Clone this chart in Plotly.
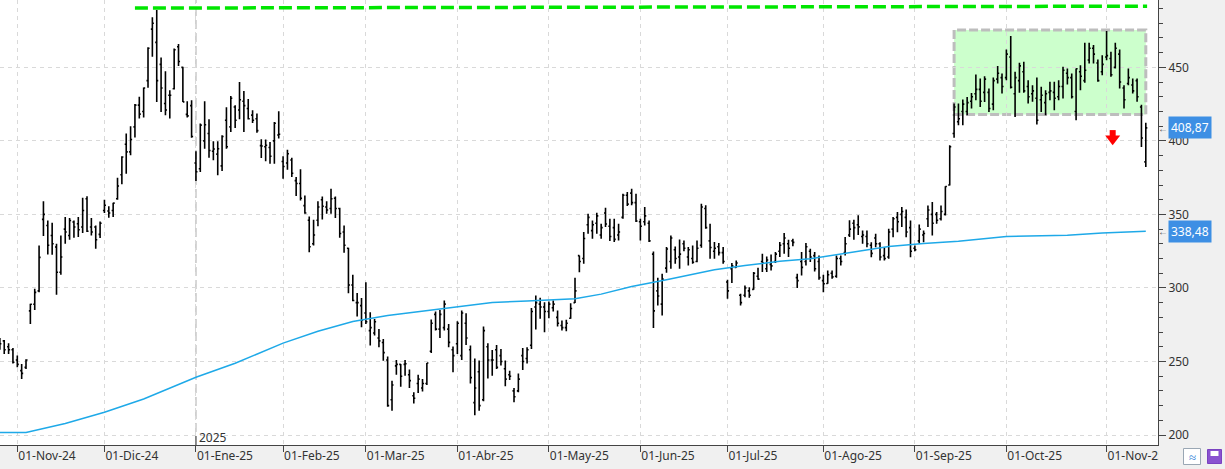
import numpy as np
import pandas as pd
import plotly.graph_objects as go

# ---------------- data ----------------
HOLIDAYS = ["2024-11-28", "2024-12-25", "2025-01-01", "2025-01-09", "2025-01-20",
            "2025-02-17", "2025-04-18", "2025-05-26", "2025-06-19", "2025-07-04",
            "2025-09-01"]
FIRST_DAY = "2024-10-28"
LAST_DAY = "2025-11-14"
MONTHS_ES = ["Ene", "Feb", "Mar", "Abr", "May", "Jun", "Jul", "Ago", "Sep", "Oct", "Nov", "Dic"]

dates = pd.bdate_range(FIRST_DAY, LAST_DAY, freq="C", holidays=HOLIDAYS)

opens = [262, 264, 260, 258, 251, 243.8, 246, 284.4, 288.9, 298, 346.6, 342.5, 335.7, 327.8, 310.7, 340,
         335.7, 344.8, 343.7, 341.4, 360.7, 341.4, 341.4, 336.4, 352.7, 352.3, 352.7, 360.7, 377, 397.7,
         392.5, 409.5, 424.3, 420, 441, 476, 467, 452, 425.4, 431, 435.4, 464, 450, 418, 424, 385, 381,
         400, 405, 393, 391, 383, 414, 409.5, 423, 421, 427, 422, 417.5, 415, 396.8, 396, 395.5, 400, 404,
         386, 385, 387, 373, 371, 356, 346, 330, 346, 360, 355, 354, 361, 354, 338, 327, 302, 290, 288,
         283, 271, 269.4, 266, 262.9, 251, 224, 247, 248, 248, 241, 226.7, 235, 232, 235, 257, 282, 272,
         273, 272, 258, 262, 254, 276, 258, 222, 243, 224, 260, 251, 258, 254, 245, 241, 230, 230, 254,
         252, 261, 287, 289, 287, 284, 286.5, 280, 274.5, 273, 279.4, 290, 322, 320, 343, 339, 344, 336,
         351, 342, 341, 336, 348, 363, 364.5, 358, 345, 345, 344, 323, 298, 289, 313.5, 318, 326, 321,
         330, 321, 320, 318, 329, 354, 332, 325, 328, 324, 304, 313, 314, 295, 295, 298, 299, 308, 318,
         313, 316, 318, 325, 330, 330, 332, 307, 318, 318, 325, 322, 318, 305, 303, 310, 308, 320, 324,
         336, 344, 343, 335, 335, 329, 334, 330, 322, 321, 340, 348, 350, 348, 341, 327, 332, 336, 347,
         350, 350, 347, 350, 370, 405, 413, 420, 420, 427, 432, 435, 433, 433, 425, 442, 443, 443, 457,
         432, 441, 447, 437, 432, 429, 428, 426, 433, 433, 430, 437, 446, 443, 420, 447, 441, 455, 463,
         453, 447, 457, 456, 450, 459, 436, 439, 438, 441, 423, 385.7]
highs = [266, 264.6, 262.4, 259.2, 254, 248.3, 251.5, 289.2, 299.4, 328.9, 358.9, 345.9, 344.3, 330, 335.7,
         348.2, 347.5, 345.9, 348.2, 361.4, 362.3, 347.5, 342.5, 345.2, 360, 355.5, 358, 375, 389.5, 405,
         410, 425, 430, 436.3, 463.6, 484, 489, 456.7, 447.4, 434.5, 462.9, 465.8, 450.4, 427, 427.7,
         392.9, 411.8, 427, 414.7, 399.7, 399.7, 403.8, 422.9, 430.6, 424.3, 440, 434, 428.4, 420.9,
         418.6, 401.1, 400.9, 399.3, 412.9, 420.2, 389.5, 394, 388.6, 375.4, 380.7, 362.9, 348.6, 346.4,
         358.9, 362.2, 358.9, 367.5, 362.2, 354.5, 342.5, 327.3, 308.9, 296.6, 293.2, 303.9, 283.5,
         278.9, 272.1, 265.3, 253.3, 236.9, 251, 248.3, 251, 244.6, 229, 241, 238, 249, 278.5, 284, 285,
         291.4, 275.5, 260.1, 277.4, 284.6, 282.8, 260.8, 252.1, 250.6, 273.7, 262.4, 257.8, 261.2,
         258.5, 250.6, 243.7, 232, 241.9, 259.2, 259.6, 286.4, 294.8, 293.3, 290.3, 290.8, 291.4, 284.6,
         277.8, 278.3, 289.6, 306.9, 322.1, 338, 350.5, 345.9, 351.2, 343.7, 354.6, 347.1, 347.1, 343.7,
         364.1, 365.2, 367.5, 364.1, 347.1, 355, 345.9, 324.8, 306.9, 309.6, 327.8, 335.7, 328.2, 333,
         332.3, 327.8, 328.9, 332.3, 357.3, 356.2, 343.7, 331.2, 330.5, 327.8, 305.5, 316.9, 318.7, 296,
         301.7, 300.5, 310.8, 313.7, 323.3, 321.4, 322.8, 324.4, 331.2, 337.3, 332.8, 333.5, 309.6,
         324.4, 330.5, 326.7, 324.4, 322.1, 308.9, 311.9, 311.9, 322.1, 322.1, 334.6, 346, 346.4, 349.4,
         339.1, 339.1, 331.1, 336.8, 331.1, 327.7, 340.2, 348.2, 351.6, 355, 353.4, 345.9, 328.9, 343.2,
         339.1, 356.1, 358.4, 351.6, 356.1, 369.1, 397, 425.4, 425.4, 428.1, 429.9, 432.6, 445.1, 442.4,
         444, 435.6, 443.1, 451, 445.8, 462.2, 471.3, 447, 453.1, 453.8, 441.3, 437.9, 443.1, 436.8,
         434.5, 440.2, 440.2, 441.3, 450.4, 449.3, 445.9, 449.3, 451.5, 466.8, 466.8, 465.2, 455.4,
         458.3, 474.7, 460.6, 466.8, 462.2, 437.9, 449.3, 442.4, 442.4, 424.5, 412.4]
lows = [258, 255.1, 255.1, 248.7, 246, 238, 244.9, 275.5, 285, 297.1, 335.3, 322.8, 322.5, 295.3, 308.9,
        330, 332.8, 334.1, 334.6, 337.3, 338, 335.7, 326.6, 333.9, 350.9, 347.8, 348.2, 360, 370.5, 377.7,
        390.2, 402.3, 415.2, 415.9, 436.1, 457.2, 426.5, 419.7, 417.5, 415.2, 434.9, 451, 426.5, 415.9,
        402.2, 372.7, 378.8, 394.7, 388.6, 386.8, 376.6, 379.5, 394.7, 406.1, 408.8, 414.7, 406.1, 414.5,
        412.2, 405.6, 388.4, 386.1, 384.5, 384.5, 401.6, 374.3, 380.4, 375.4, 362.5, 359.5, 350.5, 324.3,
        328.9, 342, 346.6, 350.5, 350.5, 347.5, 334.1, 323.9, 296.4, 291, 280.5, 273.2, 275.5, 260.8,
        267.6, 259.6, 250.5, 219.2, 216.5, 241, 232.8, 240.3, 231.9, 221.5, 228.5, 229.6, 234, 255.8,
        271, 266, 271, 259.6, 242.6, 255.1, 251, 261.2, 235.1, 213.5, 216.5, 222.9, 238.5, 240.3, 244.9,
        247.2, 233.1, 237.4, 222.2, 229, 244.2, 248.7, 258.5, 271.7, 279, 269.9, 279.4, 284, 273.7, 271,
        270.5, 279, 289.8, 310.7, 316.4, 336.9, 333.4, 336.9, 333.4, 341.4, 331.9, 331.2, 332.3, 347.1,
        355.7, 356.2, 344.8, 332.3, 342.5, 331.2, 272.8, 288, 281.2, 310.3, 313, 316.4, 313, 325, 315.3,
        316.4, 317.5, 327.3, 340.3, 319.8, 319.8, 322.1, 316.4, 292.6, 303.3, 313.7, 288, 293.7, 293.3,
        298.7, 305.5, 310.8, 310.8, 311.9, 316.9, 321, 323.3, 321, 328.3, 299.9, 308.5, 315.3, 317.6,
        311.2, 305.5, 297.1, 302.8, 306.2, 306.9, 315.3, 322.1, 334.6, 332.8, 336, 330, 327.7, 320.9,
        327.7, 318.6, 318.6, 319.8, 334.5, 337.9, 341.4, 334.5, 320.9, 325, 330, 331.1, 341.4, 335.7,
        343.6, 345.9, 349.3, 369.7, 402.2, 410.6, 410.6, 417.4, 422, 427.7, 423.1, 426.5, 419.7, 420.8,
        439, 432.2, 441.3, 435.6, 416.3, 432.7, 432.7, 425.4, 426.6, 411.1, 419.7, 417.5, 427.7, 420.9,
        427.7, 428.8, 438.4, 428.8, 414.1, 434.5, 439.5, 452.7, 452.7, 440.2, 444.7, 454.9, 443.6,
        449.3, 435.6, 422, 437.9, 432.2, 426.6, 395.9, 382.3]
closes = [262, 258, 258, 249.5, 248, 241.9, 251, 288.9, 297, 320.8, 350, 329, 330, 310.7, 321, 338, 345.9,
          341.4, 339.6, 352.7, 338.5, 338, 332.8, 344, 356.2, 351, 357.7, 369.3, 389, 392.5, 400.9, 424.3,
          418.2, 436, 463, 480, 441, 436, 421, 431, 462, 454, 426.5, 417, 403, 379, 410.7, 411, 393.5,
          394.5, 394.7, 403, 396, 429, 414, 428, 424, 415, 414, 407, 396.5, 397, 389.6, 412, 404.5, 382.6,
          391.3, 378, 371, 361, 351, 328, 336, 355, 355.6, 353, 360.6, 354, 337, 329, 302, 291.5, 290,
          278, 277, 273, 277, 264, 256, 220, 234, 248, 240, 248.5, 237, 225, 238, 235, 249, 276, 272, 282,
          289, 263, 254, 276, 283, 266, 239, 232, 220, 271, 251, 251, 246, 250, 238, 240, 226, 238, 250,
          258, 284, 290, 287, 284, 289, 289, 276, 273, 276, 286, 298, 318, 333.6, 348, 343, 349, 341,
          343.5, 335, 333, 338, 363, 357, 358, 345.5, 342, 349, 332, 284.4, 294.5, 306, 326.5, 334, 320,
          323, 327, 326, 317.5, 327, 355, 341, 327.5, 327, 324, 318, 298, 315, 317, 290, 300, 295, 310,
          306, 317, 319, 315, 323, 329, 334, 327, 331, 305, 314, 328, 321, 313, 307, 302.9, 309, 307.5,
          320, 318, 330, 340, 341, 341.5, 336, 330, 323.5, 330, 321, 320, 338, 347, 345, 352, 338, 325,
          326, 340, 337, 353, 344, 346, 352, 369, 396, 423, 415, 425, 426, 430, 435, 427, 442, 422, 441,
          446, 437, 459, 436.5, 443, 451, 434, 430, 434, 414, 431, 432, 434, 429, 437, 448, 443, 430, 449,
          444, 448, 463, 459, 441, 452, 458, 445, 463, 440, 428, 443, 434, 430, 402, 408.87]

# 200-session average, read at a few bars (bar number from the first bar)
ma_bar = [0, 6, 15, 24, 33, 45, 54, 65, 73, 81, 89, 100, 105, 113, 121, 132, 138, 145, 153, 164,
          171, 179, 186, 194, 204, 212, 220, 231, 245, 253, 263]
ma_val = [201.7, 201.7, 207.8, 215.5, 224.5, 239.3, 248.8, 262.5, 270.5, 277.2, 281.2, 285.1, 286.9,
          290.1, 291.1, 292.6, 295.8, 301.0, 305.6, 312.3, 315.2, 318.1, 319.8, 323.6, 328.2, 330.2,
          331.8, 335.0, 335.8, 337.3, 338.48]

RES_DATES = ["2024-12-11", "2025-11-14"]
RES_LEVELS = [490.3, 491.6]
BOX_DATES = ["2025-09-15", "2025-11-14"]
BOX_LEVELS = [417.9, 475.4]
ARROW_DATE = "2025-11-04"
ARROW_LEVELS = [405.3, 401.5]      # stem, head
LAST_PRICE = 408.87
LAST_MA = 338.48
YEAR_LABEL = "2025"

# ---------------- helpers ----------------
n = len(dates)
xs = np.arange(n)
pos = {d.strftime("%Y-%m-%d"): i for i, d in enumerate(dates)}

tick_idx, tick_txt = [], []
prev = None
for i, d in enumerate(dates):
    key = (d.year, d.month)
    if key != prev:
        prev = key
        if d.day <= 4:
            tick_idx.append(i)
            tick_txt.append(f"01-{MONTHS_ES[d.month - 1]}-{d.strftime('%y')}")
year_idx = next(i for i, d in enumerate(dates) if d.year == int(YEAR_LABEL))

def es(v):
    return f"{v:.2f}".replace(".", ",")

FONT = "Noto Sans"
GRID = "#d9d9d9"
AXC = "#444444"
PLOT_W = 1158.0
PLOT_H = 445.0

fig = go.Figure()

fig.add_trace(go.Ohlc(
    x=xs, open=opens, high=highs, low=lows, close=closes,
    increasing=dict(line=dict(color="black", width=1.6)),
    decreasing=dict(line=dict(color="black", width=1.6)),
    tickwidth=0.35, hoverinfo="skip"))

fig.add_trace(go.Scatter(x=ma_bar, y=ma_val, mode="lines",
                         line=dict(color="#1ea9e8", width=1.5), hoverinfo="skip"))

# red arrow: stem + head
ax_ = pos[ARROW_DATE] + 0.4
fig.add_trace(go.Scatter(x=[ax_], y=[ARROW_LEVELS[0]], mode="markers",
                         marker=dict(symbol="square", size=6, color="#ff0000", line=dict(width=0)),
                         hoverinfo="skip"))
fig.add_trace(go.Scatter(x=[ax_], y=[ARROW_LEVELS[1]], mode="markers",
                         marker=dict(symbol="triangle-down", size=13, color="#ff0000", line=dict(width=0)),
                         hoverinfo="skip"))

shapes = []
# consolidation box
shapes.append(dict(type="rect", xref="x", yref="y",
                   x0=pos[BOX_DATES[0]], x1=pos[BOX_DATES[1]],
                   y0=BOX_LEVELS[0], y1=BOX_LEVELS[1],
                   fillcolor="#ccffcc", line=dict(color="#bdbdbd", width=3, dash="9px,3px"),
                   layer="below"))
# resistance line
shapes.append(dict(type="line", xref="x", yref="y",
                   x0=pos[RES_DATES[0]], x1=pos[RES_DATES[1]] + 0.3,
                   y0=RES_LEVELS[0], y1=RES_LEVELS[1],
                   line=dict(color="#00e600", width=3.5, dash="13px,5px")))
# year separator
shapes.append(dict(type="line", xref="x", yref="paper", x0=year_idx, x1=year_idx, y0=0, y1=1,
                   line=dict(color="#c4c4c4", width=1.5, dash="9px,4px"), layer="below"))
shapes.append(dict(type="line", xref="x", yref="paper", x0=year_idx, x1=year_idx,
                   y0=0, y1=9 / PLOT_H, line=dict(color=AXC, width=1)))
# mask for last tick label under the right panel
shapes.append(dict(type="rect", xref="paper", yref="paper",
                   x0=1 + 1 / PLOT_W, x1=1.06, y0=-24 / PLOT_H, y1=-1 / PLOT_H,
                   fillcolor="#f0f0f0", line=dict(width=0), layer="above"))
# bottom-right buttons
def px2x(p):
    return p / PLOT_W
def py2y(p):
    return (PLOT_H - p) / PLOT_H
shapes.append(dict(type="rect", xref="paper", yref="paper",
                   x0=px2x(1183.5), x1=px2x(1200.5), y0=py2y(464.5), y1=py2y(448.5),
                   fillcolor="white", line=dict(color="#9aa7b4", width=1), layer="above"))
shapes.append(dict(type="rect", xref="paper", yref="paper",
                   x0=px2x(1207.5), x1=px2x(1221.5), y0=py2y(463.5), y1=py2y(449.5),
                   fillcolor="#8a52d0", line=dict(color="#7a42c0", width=1), layer="above"))
shapes.append(dict(type="rect", xref="paper", yref="paper",
                   x0=px2x(1210.5), x1=px2x(1218.5), y0=py2y(456), y1=py2y(451),
                   fillcolor="white", line=dict(width=0), layer="above"))

annotations = [
    dict(text=YEAR_LABEL, xref="x", yref="paper", x=year_idx, y=8 / PLOT_H, xanchor="left",
         yanchor="middle", xshift=1, showarrow=False, font=dict(family=FONT, size=12, color="#333")),
    dict(text=es(LAST_PRICE), xref="paper", yref="y", x=1 + 10 / PLOT_W, y=LAST_PRICE,
         xanchor="left", yanchor="middle", showarrow=False, bgcolor="#3d8fe4", borderpad=2,
         font=dict(family=FONT, size=12, color="white")),
    dict(text=es(LAST_MA), xref="paper", yref="y", x=1 + 10 / PLOT_W, y=LAST_MA,
         xanchor="left", yanchor="middle", showarrow=False, bgcolor="#3d8fe4", borderpad=2,
         font=dict(family=FONT, size=12, color="white")),
    dict(text="←", xref="paper", yref="y", x=1 + 5 / PLOT_W, y=LAST_PRICE, xanchor="center",
         yanchor="middle", showarrow=False, font=dict(family=FONT, size=10, color="#555")),
    dict(text="←", xref="paper", yref="y", x=1 + 5 / PLOT_W, y=LAST_MA, xanchor="center",
         yanchor="middle", showarrow=False, font=dict(family=FONT, size=10, color="#555")),
    dict(text="≈", xref="paper", yref="paper", x=px2x(1192), y=py2y(456.5), xanchor="center",
         yanchor="middle", showarrow=False, font=dict(family=FONT, size=13, color="#2f7fd8")),
]

fig.update_layout(
    width=1225, height=469,
    margin=dict(l=0, r=67, t=0, b=24),
    paper_bgcolor="#f0f0f0", plot_bgcolor="white",
    showlegend=False, shapes=shapes, annotations=annotations,
    font=dict(family=FONT, size=12, color="#333"),
    xaxis=dict(range=[0.03, 265.8], tickmode="array", tickvals=tick_idx, ticktext=tick_txt,
               ticks="outside", ticklen=6, tickcolor=AXC, showline=True, linecolor=AXC, linewidth=1,
               showgrid=True, gridcolor=GRID, griddash="4px,4px", gridwidth=1, zeroline=False,
               rangeslider=dict(visible=False), ticklabelposition="outside right",
               tickfont=dict(family=FONT, size=12, color="#333")),
    yaxis=dict(side="right", range=[193.2, 495.8], tick0=0, dtick=50, ticks="outside",
               ticklen=7, tickcolor=AXC, showline=True, linecolor=AXC, linewidth=1,
               showgrid=True, gridcolor=GRID, griddash="4px,4px", zeroline=False,
               minor=dict(dtick=10, ticks="outside", ticklen=4, tickcolor=AXC, showgrid=False),
               tickfont=dict(family=FONT, size=12, color="#333")),
)

fig.write_html("out.html", config={"displayModeBar": False},
               post_script="document.body.style.margin='0';document.body.style.overflow='hidden';")
